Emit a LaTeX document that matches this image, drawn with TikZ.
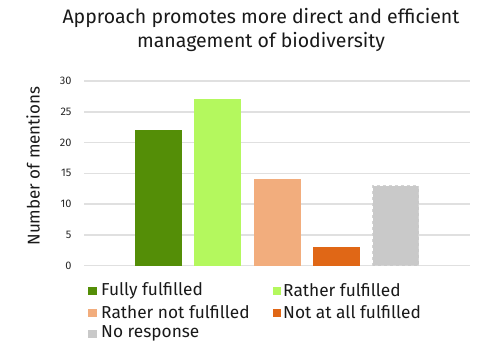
\documentclass[tikz,border=0pt]{standalone}
\usepackage{fontspec}
\setmainfont{Fira Sans}
\definecolor{cA}{HTML}{548E07}
\definecolor{cB}{HTML}{B4F85E}
\definecolor{cC}{HTML}{F2AD7D}
\definecolor{cD}{HTML}{E06716}
\definecolor{cE}{HTML}{C9C9C9}
\definecolor{grid}{HTML}{E0E0E0}
\begin{document}
\begin{tikzpicture}[x=1pt,y=-1pt,
  gridline/.style={draw=grid,line width=1.5pt},
  tick/.style={anchor=east,font=\fontsize{11}{13}\selectfont,text=black!85},
  legsq/.style={minimum size=8.5pt,inner sep=0pt},
  legtxt/.style={anchor=west,inner sep=0pt,font=\fontsize{17.3}{20}\selectfont,text=black!90}]
\useasboundingbox (0,0) rectangle (490,345);
% title
\node[align=center,font=\fontsize{19.5}{23.5}\selectfont,text=black!90] (title) at (261,30) {Approach promotes more direct and efficient\\management of biodiversity};
% grid
\foreach \v [count=\i] in {0,5,...,30}{
  \draw[gridline] (84,{265.5-\v*6.15}) -- (470,{265.5-\v*6.15});
  \node[tick] (t\i) at (75,{265.5-\v*6.15}) {\v};
}
% axis title
\node[rotate=90,font=\fontsize{17}{20}\selectfont,text=black!90] (ytitle) at (33,166) {Number of mentions};
% bars
\fill[cA] (135,265.5) rectangle (182,{265.5-22*6.15});
\fill[cB] (194,265.5) rectangle (241,{265.5-27*6.15});
\fill[cC] (254,265.5) rectangle (301,{265.5-14*6.15});
\fill[cD] (313,265.5) rectangle (360,{265.5-3*6.15});
\filldraw[fill=cE,draw=black!17,dashed,line width=1pt] (372.5,265.5) rectangle (418.5,{265.5-13*6.15});
% legend
\node[legsq,fill=cA] (lA) at (92.5,291) {};
\node[legtxt] (tA) at (101,290.5) {Fully fulfilled};
\node[legsq,fill=cB] (lB) at (277,291) {};
\node[legtxt] (tB) at (283,290.5) {Rather fulfilled};
\node[legsq,fill=cC] (lC) at (92.5,313) {};
\node[legtxt] (tC) at (101,312.5) {Rather not fulfilled};
\node[legsq,fill=cD] (lD) at (277,313) {};
\node[legtxt] (tD) at (283,312.5) {Not at all fulfilled};
\node[legsq,fill=cE] (lE) at (92.5,334) {};
\node[legtxt] (tE) at (101,333.5) {No response};
\end{tikzpicture}
\end{document}
